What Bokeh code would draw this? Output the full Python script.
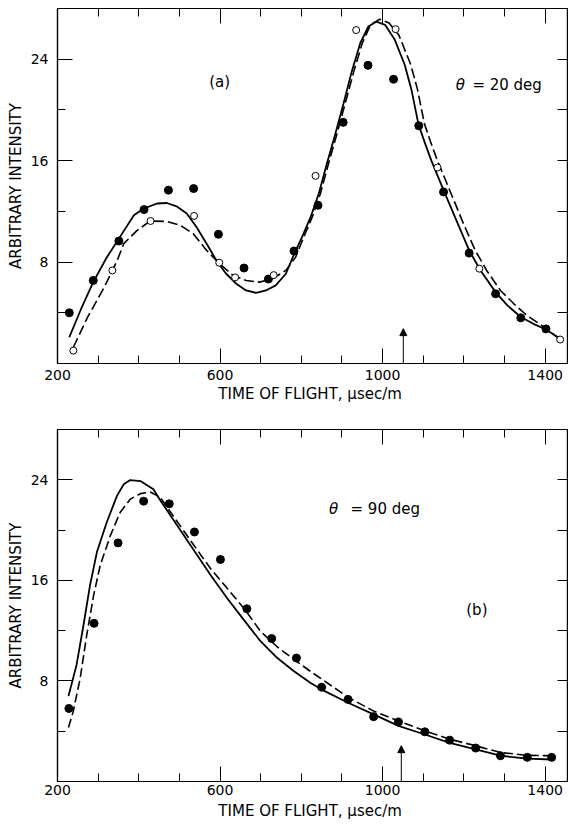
from bokeh.plotting import figure
from bokeh.layouts import column
from bokeh.models import Range1d, LinearAxis, FixedTicker, Label, Arrow, NormalHead
from bokeh.embed import file_html
from bokeh.resources import INLINE

FONT = "DejaVu Sans"

# ---------------- Panel (a): theta = 20 deg ----------------
a_filled_x = [229, 288, 351, 413, 473, 535, 596, 659, 719, 782, 841, 903, 964, 1027, 1089, 1150, 1213, 1278, 1340, 1402]
a_filled_y = [4.0, 6.55, 9.66, 12.14, 13.67, 13.8, 10.19, 7.53, 6.66, 8.87, 12.48, 19.02, 23.52, 22.42, 18.75, 13.53, 8.71, 5.5, 3.6, 2.73]

a_open_x = [239, 335, 429, 536, 598, 637, 732, 835, 935, 1032, 1135, 1238, 1437]
a_open_y = [1.02, 7.34, 11.24, 11.64, 7.95, 6.79, 6.97, 14.8, 26.3, 26.37, 15.46, 7.48, 1.89]

a_solid_x = [229, 258, 288, 320, 351, 388, 412, 445, 469, 493, 518, 542, 567, 591, 615, 640, 664, 688,
             713, 737, 762, 782, 802, 823, 843, 863, 884, 904, 924, 945, 965, 985, 1006, 1030, 1054,
             1071, 1088, 1104, 1120, 1150, 1185, 1213, 1241, 1278, 1307, 1341, 1371, 1402, 1437]
a_solid_y = [2.07, 4.3, 6.42, 8.3, 9.85, 11.69, 12.22, 12.62, 12.66, 12.4, 11.83, 10.77, 9.45, 8.13, 7.08, 6.29, 5.76, 5.58,
             5.76, 6.16, 7.08, 8.6, 9.98, 11.56, 13.41, 15.78, 18.15, 20.52, 23.02, 25.26, 26.58, 26.97, 26.71, 25.53, 23.6,
             21.6, 18.9, 17.4, 16.0, 13.67, 11.03, 8.92, 7.34, 5.63, 4.58, 3.65, 3.13, 2.68, 1.95]

a_dash_x = [239, 274, 315, 347, 363, 396, 428, 469, 502, 534, 567, 599, 632, 664, 697, 729, 762, 786,
            806, 827, 847, 867, 888, 908, 929, 950, 970, 993, 1016, 1040, 1069, 1086, 1103, 1119, 1135,
            1165, 1199, 1228, 1256, 1290, 1323, 1355, 1388, 1437]
a_dash_y = [1.28, 3.65, 6.02, 8.13, 9.45, 10.5, 11.24, 11.2, 10.9, 10.24, 8.92, 7.87, 6.95, 6.55, 6.42, 6.69, 7.34, 8.39,
            9.98, 11.56, 13.41, 15.78, 18.15, 20.52, 23.02, 25.26, 26.7, 27.16, 26.85, 25.9, 23.6, 21.6, 18.9, 17.4, 16.0,
            13.67, 11.03, 8.92, 7.34, 5.76, 4.71, 3.79, 3.08, 1.89]

a_arrow_x = 1051
a_arrow_top = 2.75

# ---------------- Panel (b): theta = 90 deg ----------------
b_filled_x = [228, 290, 349, 412, 475, 537, 601, 666, 727, 788, 850, 915, 978, 1039, 1104, 1165, 1229, 1290, 1356, 1416]
b_filled_y = [5.81, 12.58, 18.98, 22.3, 22.09, 19.85, 17.66, 13.74, 11.37, 9.82, 7.5, 6.53, 5.16, 4.74, 3.95, 3.29, 2.66, 2.05, 1.92, 1.92]

b_solid_x = [227, 247, 264, 280, 297, 321, 346, 363, 379, 404, 436, 454, 495, 536, 577, 618, 659, 700, 741,
             782, 823, 850, 915, 978, 1039, 1104, 1165, 1229, 1290, 1356, 1416]
b_solid_y = [6.79, 9.29, 12.45, 15.6, 18.25, 20.6, 22.7, 23.64, 23.98, 23.9, 23.25, 22.32, 20.35, 18.38, 16.41, 14.56, 12.84, 11.14, 9.82,
             8.77, 7.84, 7.31, 6.26, 5.34, 4.42, 3.74, 3.08, 2.55, 2.05, 1.82, 1.75]

b_dash_x = [227, 239, 256, 272, 289, 305, 330, 354, 379, 404, 428, 453, 470, 536, 577, 618, 659, 700, 741,
            782, 823, 850, 915, 978, 1039, 1104, 1165, 1229, 1290, 1356, 1416]
b_dash_y = [4.29, 5.6, 8.24, 11.66, 14.82, 17.19, 19.56, 21.4, 22.46, 22.9, 23.03, 22.6, 21.8, 18.77, 16.93, 15.35, 13.77, 11.93, 10.7,
            9.7, 8.75, 8.15, 6.7, 5.6, 4.82, 4.03, 3.37, 2.84, 2.31, 2.08, 2.05]

b_arrow_x = 1046
b_arrow_top = 2.85

# ---------------- Axes / ticks ----------------
x_range = (200, 1455)
y_range = (0, 28)
x_major = [200, 600, 1000, 1400]
x_minor = [300, 400, 500, 700, 800, 900, 1100, 1200, 1300]
y_major = [8, 16, 24]
y_minor = [4, 12, 20]
y_right = [4, 8, 12, 16, 20, 24]
x_label = "TIME OF FLIGHT,  \u03bcsec/m"
y_label = "ARBITRARY INTENSITY"


def make_panel(height, border_left, border_top, border_bottom):
    p = figure(width=568, height=height, output_backend="svg", toolbar_location=None,
               x_range=Range1d(*x_range), y_range=Range1d(*y_range),
               min_border_left=border_left, min_border_right=1,
               min_border_top=border_top, min_border_bottom=border_bottom,
               x_axis_location=None, y_axis_location=None)
    p.grid.visible = False
    p.outline_line_color = "black"
    p.outline_line_width = 1.2
    p.background_fill_color = "white"
    p.border_fill_color = "white"

    xb = LinearAxis(ticker=FixedTicker(ticks=x_major, minor_ticks=x_minor), axis_label=x_label)
    yl = LinearAxis(ticker=FixedTicker(ticks=y_major, minor_ticks=y_minor), axis_label=y_label)
    xt = LinearAxis(ticker=FixedTicker(ticks=x_major, minor_ticks=x_minor),
                    major_label_overrides={v: "" for v in x_major})
    yr = LinearAxis(ticker=FixedTicker(ticks=[], minor_ticks=y_right))

    for ax in (xb, yl, xt, yr):
        ax.axis_line_color = "black"
        ax.axis_line_width = 1.2
        ax.major_tick_in = 15
        ax.major_tick_out = 0
        ax.minor_tick_in = 8
        ax.minor_tick_out = 0
        ax.major_tick_line_color = "black"
        ax.minor_tick_line_color = "black"
        ax.major_label_text_font = FONT
        ax.major_label_text_font_size = "14px"
        ax.major_label_text_color = "black"
        ax.axis_label_text_font = FONT
        ax.axis_label_text_font_size = "15px"
        ax.axis_label_text_font_style = "normal"
        ax.axis_label_text_color = "black"
    xt.major_label_standoff = 0
    yr.minor_tick_in = 10
    yr.major_label_standoff = 0
    xb.major_label_standoff = 6
    xb.axis_label_standoff = 2
    yl.major_label_standoff = 9
    yl.axis_label_standoff = 3

    p.add_layout(xb, "below")
    p.add_layout(yl, "left")
    p.add_layout(xt, "above")
    p.add_layout(yr, "right")
    return p, xb


def add_label(p, x, y, text, size="15px", style="normal"):
    p.add_layout(Label(x=x, y=y, text=text, text_font=FONT, text_font_size=size,
                       text_font_style=style, text_color="black",
                       text_align="left", text_baseline="middle"))


# ---------- top panel ----------
p1, xb1 = make_panel(408, 53, 8, 45)
p1.line(a_dash_x, a_dash_y, line_color="black", line_width=1.6, line_dash="10 4")
p1.line(a_solid_x, a_solid_y, line_color="black", line_width=1.8)
p1.scatter(a_filled_x, a_filled_y, size=8, fill_color="black", line_color="black")
p1.scatter(a_open_x, a_open_y, size=7, fill_color="white", line_color="black", line_width=1)
p1.add_layout(Arrow(x_start=a_arrow_x, y_start=0, x_end=a_arrow_x, y_end=a_arrow_top,
                    line_color="black", line_width=1,
                    end=NormalHead(size=7, fill_color="black", line_color="black")))
p1.add_layout(Label(x=599, y=22.2, text="(a)", text_font=FONT, text_font_size="15px",
                    text_color="black", text_align="center", text_baseline="middle"))
add_label(p1, 1180, 21.97, "\u03b8", size="15px", style="italic")
add_label(p1, 1221, 21.97, "=  20 deg", size="15px")

# ---------- bottom panel ----------
p2, xb2 = make_panel(414, 57, 21, 34)
xb2.major_label_standoff = 3
xb2.axis_label_standoff = 4
p2.line(b_dash_x, b_dash_y, line_color="black", line_width=1.6, line_dash="9 4")
p2.line(b_solid_x, b_solid_y, line_color="black", line_width=1.8)
p2.scatter(b_filled_x, b_filled_y, size=8, fill_color="black", line_color="black")
p2.add_layout(Arrow(x_start=b_arrow_x, y_start=0, x_end=b_arrow_x, y_end=b_arrow_top,
                    line_color="black", line_width=1,
                    end=NormalHead(size=7, fill_color="black", line_color="black")))
add_label(p2, 868, 21.67, "\u03b8", size="15px", style="italic")
add_label(p2, 921, 21.67, "=  90  deg", size="15px")
p2.add_layout(Label(x=1232, y=13.63, text="(b)", text_font=FONT, text_font_size="15px",
                    text_color="black", text_align="center", text_baseline="middle"))

layout = column(p1, p2, spacing=0)
open("out.html", "w").write(file_html(layout, INLINE))
